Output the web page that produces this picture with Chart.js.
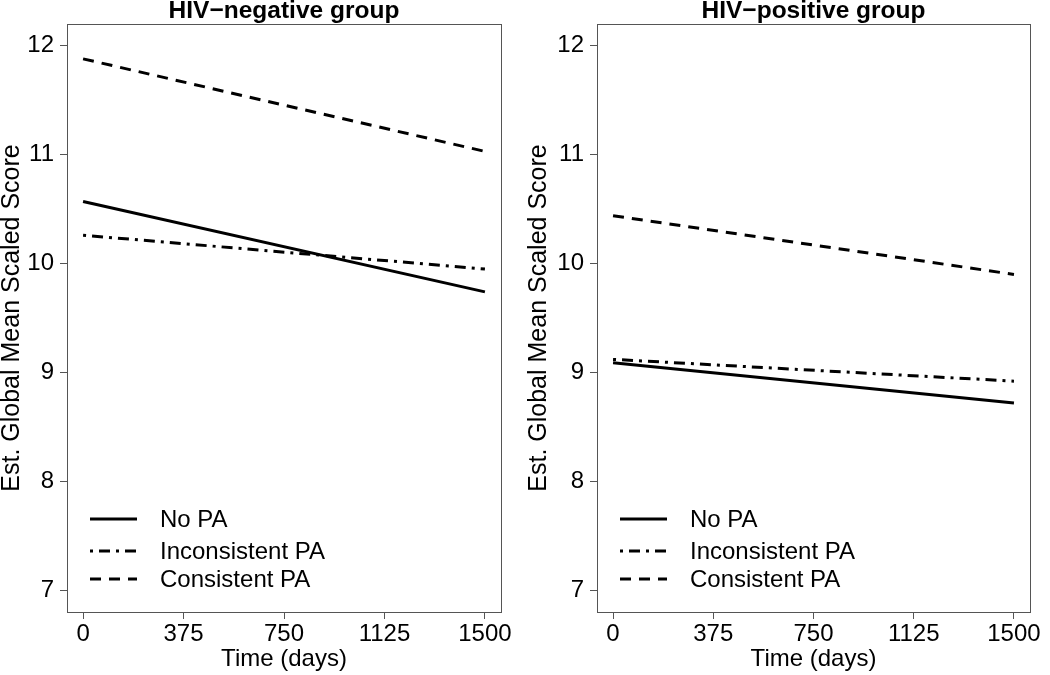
<!DOCTYPE html>
<html>
<head>
<meta charset="utf-8">
<script src="https://cdn.jsdelivr.net/npm/chart.js@4/dist/chart.umd.min.js"></script>
<style>
  body { margin: 0; background: #fff; }
  .panel { position: absolute; top: 0; width: 525px; height: 675px; }
</style>
</head>
<body>
<div class="panel" style="left:0"><canvas id="neg" width="525" height="675"></canvas></div>
<div class="panel" style="left:525px"><canvas id="pos" width="525" height="675"></canvas></div>
<script>
const days = [0, 1500];
const xTicks = [0, 375, 750, 1125, 1500];
const yTicks = [7, 8, 9, 10, 11, 12];
const seriesNames = ['No PA', 'Inconsistent PA', 'Consistent PA'];
const seriesDash = [[], [3, 6, 11, 6], [11, 8]];

// HIV-negative group
const negNoPA = [10.57, 9.74];
const negInconsistent = [10.26, 9.95];
const negConsistent = [11.88, 11.03];
// HIV-positive group
const posNoPA = [9.09, 8.72];
const posInconsistent = [9.12, 8.92];
const posConsistent = [10.44, 9.90];

const FONT = 'Liberation Sans, Arial, sans-serif';
const GREY = '#555';

// box, legend and panel title drawn on top of the plot
const boxLegend = {
  id: 'boxLegend',
  afterDraw(chart) {
    const { ctx, chartArea: a } = chart;
    ctx.save();
    ctx.strokeStyle = GREY;
    ctx.lineWidth = 1;
    ctx.strokeRect(a.left + 0.5, a.top + 0.5, a.right - a.left, a.bottom - a.top);

    const rows = [-93, -61, -33];
    chart.data.datasets.forEach((ds, i) => {
      const y = a.bottom + rows[i];
      ctx.strokeStyle = '#000';
      ctx.lineWidth = 3;
      ctx.setLineDash(ds.borderDash);
      ctx.beginPath();
      ctx.moveTo(a.left + 23, y);
      ctx.lineTo(a.left + 70, y);
      ctx.stroke();
      ctx.setLineDash([]);
      ctx.fillStyle = '#000';
      ctx.font = '24px ' + FONT;
      ctx.textBaseline = 'middle';
      ctx.fillText(ds.label, a.left + 93, y + 1);
    });

    ctx.font = 'bold 24.5px ' + FONT;
    ctx.textAlign = 'center';
    ctx.textBaseline = 'alphabetic';
    ctx.fillText(chart.options.plugins.panelTitle, (a.left + a.right) / 2, 18);
    ctx.restore();
  }
};

function makeChart(id, title, values, yWidth, rightPad, titlePad) {
  return new Chart(document.getElementById(id), {
    type: 'line',
    data: {
      datasets: values.map((vals, i) => ({
        label: seriesNames[i],
        data: days.map((d, j) => ({ x: d, y: vals[j] })),
        borderColor: '#000',
        borderWidth: 3,
        borderDash: seriesDash[i],
        pointRadius: 0,
        fill: false,
        tension: 0
      }))
    },
    options: {
      responsive: false,
      animation: false,
      layout: { padding: { top: 24, right: rightPad, left: 0, bottom: 0 } },
      plugins: {
        legend: { display: false },
        tooltip: { enabled: false },
        panelTitle: title
      },
      scales: {
        x: {
          type: 'linear',
          min: -60,
          max: 1560,
          afterBuildTicks: s => { s.ticks = xTicks.map(v => ({ value: v })); },
          afterFit: s => { s.height = 63; },
          grid: { drawOnChartArea: false, tickLength: 7, color: GREY },
          border: { display: false },
          ticks: { color: '#000', font: { size: 24, family: FONT }, padding: 1, maxRotation: 0, callback: v => String(v) },
          title: { display: true, text: 'Time (days)', color: '#000', font: { size: 24, family: FONT, lineHeight: 1.1 }, padding: { top: 0, bottom: 2 } }
        },
        y: {
          min: 6.8,
          max: 12.2,
          afterBuildTicks: s => { s.ticks = yTicks.map(v => ({ value: v })); },
          afterFit: s => { s.width = yWidth; },
          grid: { drawOnChartArea: false, tickLength: 7, color: GREY },
          border: { display: false },
          ticks: { color: '#000', font: { size: 24, family: FONT }, padding: 6, callback: v => String(v) },
          title: { display: true, text: 'Est. Global Mean Scaled Score', color: '#000', font: { size: 25, family: FONT, lineHeight: 1.0 }, padding: { top: titlePad, bottom: 0 } }
        }
      }
    },
    plugins: [boxLegend]
  });
}

makeChart('neg', 'HIV\u2212negative group', [negNoPA, negInconsistent, negConsistent], 67, 24, 0);
makeChart('pos', 'HIV\u2212positive group', [posNoPA, posInconsistent, posConsistent], 72, 20, 2);
</script>
</body>
</html>
